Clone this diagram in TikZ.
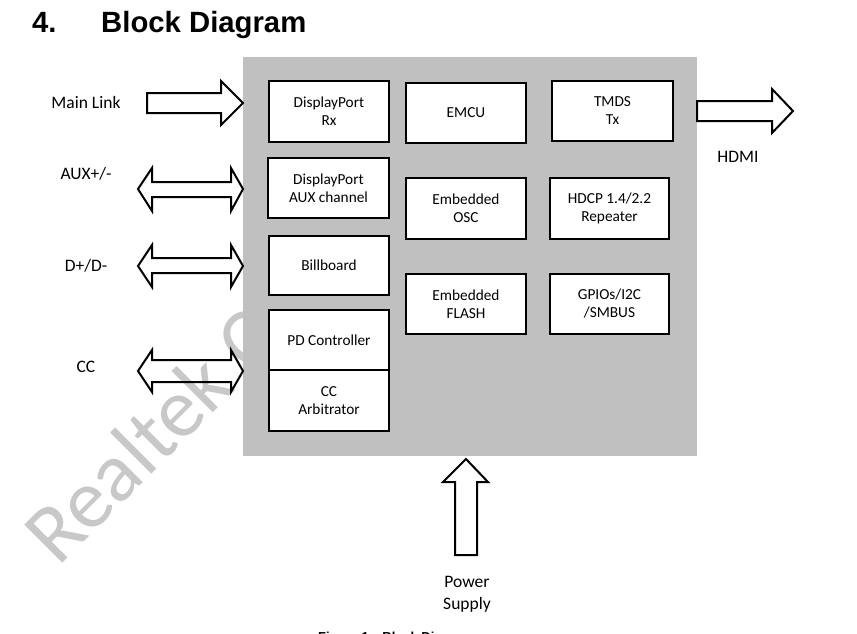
\documentclass[tikz,border=0pt]{standalone}
\usepackage{fontspec}
\setmainfont{Carlito}
\newfontfamily\headfont{Liberation Sans}
\definecolor{chipgray}{RGB}{192,192,192}
\definecolor{wmgray}{RGB}{200,200,200}
\begin{document}
\begin{tikzpicture}[x=1pt,y=-1pt,
  blk/.style={draw=black, fill=white, line width=2pt, minimum width=120pt, minimum height=60pt,
    align=center, font=\fontsize{15.3}{18}\selectfont, inner sep=0pt},
  lbl/.style={font=\fontsize{17.5}{22}\selectfont, align=center, inner sep=0pt},
  barrow/.style={draw=black, line width=2pt, line join=miter},
  wm/.style={text=wmgray, font=\fontsize{84}{84}\selectfont, rotate=45, anchor=base west, inner sep=0pt},
  ttl/.style={font=\headfont\bfseries\fontsize{29.3}{30}\selectfont, anchor=base west, inner sep=0pt},
  figcap/.style={font=\headfont\bfseries\fontsize{13}{15}\selectfont, anchor=base west, inner sep=0pt}]
\useasboundingbox (0,0) rectangle (857,633);
\clip (0,0) rectangle (857,633);

% title
\node[ttl] (num) at (32,32) {4.};
\node[ttl] (title) at (101,32) {Block Diagram};

% watermark (behind the chip)
\node[wm] (wmark) at (58,568) {Realtek C};

% chip
\fill[chipgray] (243,57) rectangle (697,456);
\coordinate (chip) at (470,256);

% blocks
\node[blk, minimum height=61pt] (dprx) at (329,111.5) {DisplayPort\\Rx};
\node[blk, minimum width=121pt] (aux) at (328.5,188) {DisplayPort\\AUX channel};
\node[blk, minimum height=59pt] (bill) at (329,265.5) {Billboard};
\node[blk] (pd) at (329,340) {PD Controller};
\node[blk, minimum height=61pt] (cca) at (329,400.5) {CC\\Arbitrator};
\node[blk] (emcu) at (466,113) {EMCU};
\node[blk, minimum width=121pt] (tmds) at (612.5,111) {TMDS\\Tx};
\node[blk, minimum height=61pt] (osc) at (466,208.5) {Embedded\\OSC};
\node[blk, minimum width=119pt, minimum height=61pt] (hdcp) at (609.5,208.5) {HDCP 1.4/2.2\\Repeater};
\node[blk] (flash) at (466,304) {Embedded\\FLASH};
\node[blk, minimum width=119pt] (gpio) at (609.5,304) {GPIOs/I2C\\/SMBUS};

% labels
\node[lbl] (mainlink) at (86,102) {Main Link};
\node[lbl] (auxl) at (86,174) {AUX+/-};
\node[lbl] (dpl) at (86,266) {D+/D-};
\node[lbl] (ccl) at (86,367) {CC};
\node[lbl] (hdmi) at (738,157) {HDMI};
\node[lbl] (power) at (467,594) {Power\\Supply};

% block arrows
\draw[barrow] (147,93) -- (221,93) -- (221,81) -- (243,103) -- (221,125) -- (221,113) -- (147,113) -- cycle;
\draw[barrow] (697,101) -- (772,101) -- (772,89) -- (793,111) -- (772,133) -- (772,121) -- (697,121) -- cycle;
\draw[barrow] (138,189) -- (152,168) -- (152,182) -- (231,182) -- (231,168) -- (243,189) -- (231,211) -- (231,197) -- (152,197) -- (152,211) -- cycle;
\draw[barrow] (138,266) -- (152,245) -- (152,258) -- (231,258) -- (231,245) -- (243,266) -- (231,287) -- (231,273) -- (152,273) -- (152,287) -- cycle;
\draw[barrow] (138,371) -- (152,350) -- (152,360) -- (231,360) -- (231,350) -- (243,371) -- (231,392) -- (231,382) -- (152,382) -- (152,392) -- cycle;
\draw[barrow] (466,459) -- (488,482) -- (477,482) -- (477,555) -- (455,555) -- (455,482) -- (443,482) -- cycle;

% caption (cut by the page edge)
\node[figcap] (caption) at (318,641) {Figure 1.\hspace{10pt}Block Diagram};
\end{tikzpicture}
\end{document}
